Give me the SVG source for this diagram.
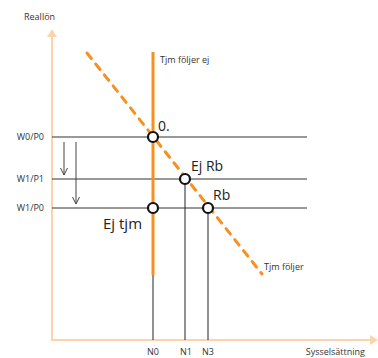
<svg xmlns="http://www.w3.org/2000/svg" width="378" height="358" viewBox="0 0 378 358">
<style>
.lbl{font-family:"Open Sans","Noto Sans",sans-serif;fill:#333;font-size:9px}
.big{font-family:"Open Sans","Noto Sans",sans-serif;fill:#222;font-size:14px}
.h{stroke:#333;stroke-width:1;fill:none}
.v{stroke:#222;stroke-width:1;fill:none}
.pt{fill:#fff;stroke:#111;stroke-width:2.2}
</style>
<defs>
<marker id="ah" markerWidth="8" markerHeight="8" refX="7" refY="4" orient="auto" markerUnits="userSpaceOnUse" viewBox="0 0 8 8">
<path d="M0,0.5 L7,4 L0,7.5" fill="none" stroke="#444" stroke-width="1"/>
</marker>
</defs>
<g id="axes">
<line x1="52" y1="36" x2="52" y2="340" stroke="#fdd3ad" stroke-width="2"/>
<polygon points="52,29 47,37 57,37" fill="#fdd3ad"/>
<line x1="51" y1="340" x2="371" y2="340" stroke="#fdd3ad" stroke-width="2"/>
<polygon points="378,340 370,335 370,345" fill="#fdd3ad"/>
<text class="lbl" x="24" y="20">Reallön</text>
<text class="lbl" x="365" y="355" text-anchor="end">Sysselsättning</text>
</g>
<g id="connectors">
<line class="h" x1="52" y1="137" x2="307" y2="137"/>
<line class="h" x1="52" y1="179" x2="307" y2="179" stroke="#555"/>
<line class="h" x1="52" y1="208" x2="307" y2="208" stroke="#555"/>
<line class="v" x1="153" y1="270" x2="153" y2="340"/>
<line class="v" x1="185" y1="179" x2="185" y2="340"/>
<line class="v" x1="208" y1="208" x2="208" y2="340" stroke="#666"/>
<line x1="64" y1="142" x2="64" y2="175" stroke="#444" stroke-width="1" marker-end="url(#ah)"/>
<line x1="76" y1="142" x2="76" y2="204" stroke="#444" stroke-width="1" marker-end="url(#ah)"/>
<line x1="153" y1="52" x2="153" y2="275" stroke="#f7901e" stroke-width="3"/>
<line x1="87" y1="53" x2="262" y2="274" stroke="#f7901e" stroke-width="3" stroke-dasharray="7 7" stroke-linecap="round"/>
</g>
<g id="labels">
<text class="lbl" x="160" y="63">Tjm följer ej</text>
<text class="lbl" x="264" y="270">Tjm följer</text>
<text class="lbl" x="44" y="140" text-anchor="end">W0/P0</text>
<text class="lbl" x="44" y="182" text-anchor="end">W1/P1</text>
<text class="lbl" x="44" y="211" text-anchor="end">W1/P0</text>
<text class="lbl" x="153" y="355" text-anchor="middle">N0</text>
<text class="lbl" x="186" y="355" text-anchor="middle">N1</text>
<text class="lbl" x="208" y="355" text-anchor="middle">N3</text>
</g>
<g id="node-O">
<circle class="pt" cx="153" cy="137" r="5"/>
<text class="big" x="158" y="131">0.</text>
</g>
<g id="node-EjRb">
<circle class="pt" cx="185" cy="179" r="5"/>
<text class="big" x="191" y="171">Ej Rb</text>
</g>
<g id="node-Rb">
<circle class="pt" cx="208" cy="208" r="5"/>
<text class="big" x="213" y="200">Rb</text>
</g>
<g id="node-Ejtjm">
<circle class="pt" cx="153" cy="208" r="5"/>
<text class="big" x="103" y="229" style="font-size:15px">Ej tjm</text>
</g>
</svg>
